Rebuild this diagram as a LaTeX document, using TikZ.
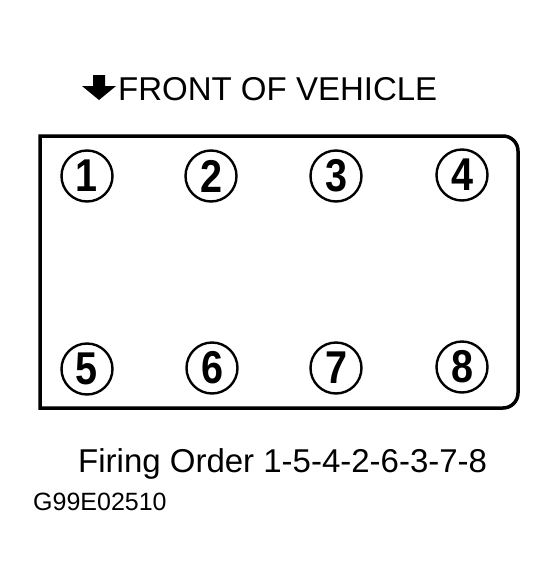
\documentclass[tikz,border=0pt]{standalone}
\usepackage{fontspec}
\setmainfont{Liberation Sans}
\newcommand{\cylnum}[1]{\scalebox{0.86}[1]{#1}}
\begin{document}
\begin{tikzpicture}[x=1pt,y=-1pt,
  cyl/.style={circle,draw,line width=2.4pt,minimum size=51pt,inner sep=0pt,
    font=\fontsize{46}{46}\selectfont\bfseries},
  lbl/.style={anchor=base west,inner sep=0pt}]
\useasboundingbox[fill=white] (0,0) rectangle (559,587);
% block outline
\draw[line width=3.5pt,line join=miter] (40,136) -- (503,136)
  .. controls (511.3,136) and (518,142.7) .. (518,151)
  -- (518,393) .. controls (518,401.3) and (511.3,408) .. (503,408) -- (40,408) -- cycle;
% arrow
\fill (93,75) -- (105,75) -- (105,86) -- (116,86) -- (99,100) -- (82,86) -- (93,86) -- cycle;
\node[lbl,font=\fontsize{33}{33}\selectfont] (front) at (118,100) {FRONT OF VEHICLE};
% cylinders
\node[cyl] (c1) at (87,176) {\cylnum{1}};
\node[cyl] (c2) at (211,176) {\cylnum{2}};
\node[cyl] (c3) at (336,176) {\cylnum{3}};
\node[cyl] (c4) at (462,175) {\cylnum{4}};
\node[cyl] (c5) at (87,369) {\cylnum{5}};
\node[cyl] (c6) at (212,368) {\cylnum{6}};
\node[cyl] (c7) at (336,368) {\cylnum{7}};
\node[cyl] (c8) at (462,367) {\cylnum{8}};
% captions
\node[lbl,font=\fontsize{33}{33}\selectfont] (order) at (78,472) {Firing Order 1-5-4-2-6-3-7-8};
\node[lbl,font=\fontsize{25}{25}\selectfont] (code) at (33,510) {G99E02510};
\end{tikzpicture}
\end{document}
